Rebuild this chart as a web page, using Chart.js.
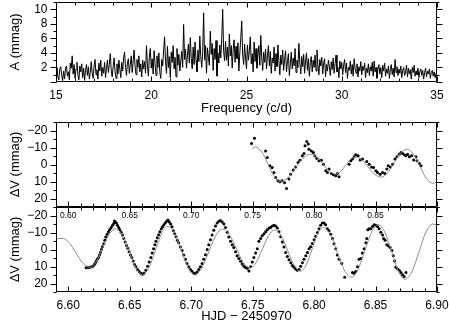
<!DOCTYPE html>
<html>
<head>
<meta charset="utf-8">
<script src="https://cdn.jsdelivr.net/npm/chart.js@4.4.1/dist/chart.umd.min.js"></script>
<style>
  html, body { margin: 0; padding: 0; background: #fff; }
  #wrap { position: relative; width: 449px; height: 325px; }
  #wrap canvas { position: absolute; left: 0; top: 0; }
</style>
</head>
<body>
<div id="wrap">
  <canvas id="spec" width="449" height="325"></canvas>
  <canvas id="night2" width="449" height="325"></canvas>
  <canvas id="night1" width="449" height="325"></canvas>
</div>
<script>
// amplitude spectrum, one row per c/d, sampled every 0.05 c/d from 15 c/d
const freqStart = 15;
const freqStep = 0.05;
const amplitude = [
  1.2, 2.0, 0.6, 0.3, 1.8, 2.1, 0.9, 0.2, 1.5, 0.4, 1.9, 2.2, 0.8, 1.4, 0.3, 2.6, 1.9, 3.6, 1.1, 2.4,
  0.5, 1.8, 2.7, 1.0, 0.3, 2.2, 1.4, 2.5, 0.6, 1.9, 0.2, 1.6, 2.4, 0.9, 2.1, 0.4, 1.3, 2.8, 1.2, 0.5,
  2.2, 3.1, 1.0, 1.7, 0.4, 2.6, 1.5, 3.0, 0.8, 2.0, 1.2, 2.7, 0.6, 1.9, 3.0, 1.3, 2.4, 3.9, 1.6, 0.7,
  2.1, 3.3, 1.4, 0.5, 2.5, 1.1, 3.0, 1.8, 0.6, 2.7, 1.5, 3.4, 4.1, 2.0, 0.9, 2.6, 3.2, 1.2, 2.4, 3.6,
  1.3, 2.9, 4.4, 2.2, 1.0, 3.1, 2.0, 3.6, 1.4, 2.5, 0.7, 3.0, 1.8, 2.8, 1.2, 5.0, 2.3, 0.8, 3.4, 4.6,
  1.9, 3.2, 1.1, 4.3, 2.5, 0.9, 3.6, 2.0, 4.0, 1.3, 0.5, 3.1, 2.2, 4.4, 6.2, 2.8, 1.2, 4.9, 2.0, 3.5,
  0.6, 4.1, 2.7, 5.0, 1.8, 3.4, 0.7, 4.6, 2.3, 3.8, 1.5, 2.9, 4.2, 2.0, 7.9, 3.1, 4.5, 1.9, 3.6, 5.2,
  2.6, 6.1, 3.2, 1.8, 4.8, 2.4, 5.5, 3.0, 1.4, 4.4, 2.8, 6.3, 3.5, 2.0, 4.1, 9.5, 3.0, 5.0, 1.2, 4.7,
  3.4, 2.3, 7.0, 3.8, 5.3, 1.6, 4.6, 3.1, 5.7, 0.8, 4.0, 2.6, 5.1, 3.3, 6.0, 10.0, 4.2, 2.9, 5.6, 3.0,
  4.8, 2.2, 6.6, 3.6, 5.0, 1.9, 4.4, 5.8, 2.7, 4.9, 3.2, 5.4, 1.5, 4.0, 6.1, 8.4, 3.7, 2.4, 5.2, 3.3,
  1.8, 5.1, 3.0, 4.3, 6.2, 2.5, 3.9, 1.4, 5.5, 2.8, 4.6, 1.9, 3.7, 5.0, 2.3, 6.4, 3.4, 1.6, 4.1, 2.7,
  4.5, 1.8, 3.6, 5.0, 2.2, 4.2, 1.2, 3.3, 2.6, 4.8, 1.5, 3.9, 2.1, 5.1, 2.9, 1.0, 3.7, 2.4, 4.4, 1.6,
  3.1, 4.3, 1.4, 2.8, 3.9, 0.9, 2.5, 4.1, 1.8, 3.3, 2.2, 4.6, 1.3, 3.0, 2.0, 5.3, 2.6, 1.1, 3.5, 2.1,
  3.8, 1.2, 2.9, 4.0, 1.6, 3.2, 0.8, 2.7, 3.5, 1.4, 3.0, 2.0, 3.7, 1.5, 4.4, 2.3, 1.0, 3.1, 2.2, 3.4,
  1.1, 2.6, 3.2, 0.7, 2.4, 1.5, 3.0, 2.1, 0.9, 2.8, 1.7, 3.3, 1.2, 2.5, 3.7, 1.4, 2.0, 0.6, 2.9, 1.8,
  2.7, 1.0, 2.3, 3.1, 1.3, 2.6, 0.5, 2.0, 1.6, 2.9, 1.1, 2.4, 0.8, 3.2, 1.9, 1.2, 2.5, 0.7, 2.1, 1.5,
  2.8, 1.0, 2.2, 1.6, 2.6, 0.6, 1.9, 1.3, 2.5, 0.9, 2.1, 1.5, 2.7, 0.8, 2.9, 1.4, 2.0, 0.5, 1.8, 2.4,
  1.1, 2.0, 0.6, 2.3, 1.5, 2.6, 0.8, 1.8, 1.2, 2.2, 0.5, 1.7, 2.4, 1.0, 1.9, 0.7, 3.1, 1.3, 2.1, 0.9,
  1.8, 1.2, 2.2, 0.6, 1.6, 2.0, 0.9, 1.4, 2.3, 0.7, 1.9, 1.1, 1.7, 0.4, 2.0, 1.3, 2.3, 0.8, 1.5, 1.0,
  1.9, 0.6, 1.4, 1.8, 0.9, 1.6, 0.4, 1.3, 1.9, 0.7, 1.5, 1.1, 1.8, 0.5, 1.3, 1.6, 0.8, 1.4, 0.6, 1.2,
  0.7
];
const freqTicks = [15, 20, 25, 30, 35];
const ampTicks = [2, 4, 6, 8, 10];

// first night (middle panel), time axis shown as 0.xx
const night1Time = [
  0.7491, 0.7515, 0.7605, 0.7619, 0.7640, 0.7659, 0.7673, 0.7687, 0.7706, 0.7722,
  0.7741, 0.7760, 0.7776, 0.7795, 0.7809, 0.7831, 0.7850, 0.7869, 0.7885, 0.7904,
  0.7918, 0.7926, 0.7940, 0.7953, 0.7959, 0.7978, 0.7994, 0.8005, 0.8021, 0.8040,
  0.8059, 0.8076, 0.8095, 0.8108, 0.8122, 0.8141, 0.8157, 0.8176, 0.8190, 0.8203,
  0.8285, 0.8299, 0.8312, 0.8326, 0.8339, 0.8358, 0.8375, 0.8394, 0.8429, 0.8448,
  0.8467, 0.8484, 0.8503, 0.8516, 0.8538, 0.8557, 0.8576, 0.8592, 0.8603, 0.8620,
  0.8639, 0.8658, 0.8674, 0.8693, 0.8707, 0.8720, 0.8734, 0.8747, 0.8761, 0.8775,
  0.8794, 0.8810, 0.8829, 0.8837, 0.8856, 0.8870
];
const night1Dv = [
  -12.4, -15.5, -8.0, -4.1, 0.8, 1.8, 4.7, 7.6, 9.6, 10.2,
  9.6, 10.8, 14.1, 8.6, 5.7, 3.3, 1.4, -1.2, -2.5, -5.1,
  -6.5, -11.0, -13.5, -12.0, -9.0, -8.0, -7.1, -5.1, -3.7, -2.2,
  -2.5, -0.2, 3.7, 4.7, 2.7, 5.3, 6.1, 6.6, 5.3, 7.2,
  -0.2, -2.2, -3.2, -4.5, -5.7, -5.1, -2.6, -3.2, -1.8, -0.2,
  1.4, 1.8, 3.7, 4.7, 5.7, 4.7, 5.3, 2.7, 0.8, 1.4,
  -0.2, -3.2, -4.5, -6.1, -7.1, -6.5, -5.7, -5.1, -6.1, -4.5,
  -5.1, -2.6, -4.5, -2.2, -0.6, 0.8
];
const night1FitTime = [
  0.7495, 0.7525, 0.7575, 0.7625, 0.7675, 0.7725, 0.7787, 0.7849, 0.7910, 0.7972,
  0.8023, 0.8074, 0.8124, 0.8175, 0.8215, 0.8255, 0.8295, 0.8335, 0.8388, 0.8440,
  0.8493, 0.8545, 0.8598, 0.8651, 0.8703, 0.8756, 0.8808, 0.8861, 0.8913, 0.8965, 0.9000
];
const night1FitDv = [
  -9.3, -10.3, -7.3, -0.2, 7.0, 10.0, 7.7, 2.0, -3.7, -6.0,
  -4.3, -0.2, 3.9, 5.6, 4.1, 0.6, -3.0, -4.5, -2.8, 1.5,
  5.7, 7.4, 5.0, -0.8, -6.6, -9.0, -6.1, 1.0, 8.1, 11.0, 10.3
];
const phaseTicks = [0.60, 0.65, 0.70, 0.75, 0.80, 0.85];

// second night (bottom panel), HJD - 2450970
const night2Time = [
  6.6145, 6.6158, 6.6172, 6.6186, 6.6199, 6.6210, 6.6218, 6.6226, 6.6235, 6.6246,
  6.6254, 6.6262, 6.6270, 6.6278, 6.6289, 6.6297, 6.6305, 6.6316, 6.6327, 6.6338,
  6.6349, 6.6360, 6.6371, 6.6376, 6.6381, 6.6392, 6.6400, 6.6411, 6.6419, 6.6430,
  6.6441, 6.6452, 6.6463, 6.6474, 6.6484, 6.6495, 6.6506, 6.6517, 6.6528, 6.6539,
  6.6550, 6.6563, 6.6577, 6.6590, 6.6604, 6.6615, 6.6631, 6.6645, 6.6658, 6.6672,
  6.6683, 6.6694, 6.6705, 6.6713, 6.6724, 6.6735, 6.6745, 6.6756, 6.6767, 6.6778,
  6.6789, 6.6800, 6.6811, 6.6822, 6.6833, 6.6844, 6.6855, 6.6866, 6.6877, 6.6888,
  6.6898, 6.6912, 6.6926, 6.6939, 6.6953, 6.6966, 6.6980, 6.6994, 6.7007, 6.7021,
  6.7034, 6.7048, 6.7062, 6.7075, 6.7089, 6.7102, 6.7116, 6.7130, 6.7143, 6.7157,
  6.7170, 6.7184, 6.7198, 6.7211, 6.7225, 6.7238, 6.7252, 6.7266, 6.7279, 6.7293,
  6.7306, 6.7320, 6.7334, 6.7347, 6.7361, 6.7374, 6.7388, 6.7402, 6.7415, 6.7429,
  6.7442, 6.7456, 6.7470, 6.7483, 6.7497, 6.7510, 6.7524, 6.7538, 6.7551, 6.7565,
  6.7578, 6.7592, 6.7606, 6.7619, 6.7633, 6.7646, 6.7660, 6.7674, 6.7687, 6.7701,
  6.7714, 6.7728, 6.7742, 6.7755, 6.7769, 6.7782, 6.7796, 6.7810, 6.7823, 6.7837,
  6.7850, 6.7864, 6.7878, 6.7891, 6.7905, 6.7918, 6.7932, 6.7946, 6.7959, 6.7972,
  6.7986, 6.8000, 6.8013, 6.8027, 6.8040, 6.8053, 6.8067, 6.8081, 6.8094, 6.8108,
  6.8121, 6.8135, 6.8149, 6.8162, 6.8176, 6.8189, 6.8203, 6.8225, 6.8249, 6.8312,
  6.8325, 6.8339, 6.8353, 6.8366, 6.8380, 6.8393, 6.8407, 6.8421, 6.8429, 6.8437,
  6.8448, 6.8461, 6.8475, 6.8489, 6.8502, 6.8516, 6.8529, 6.8543, 6.8557, 6.8565,
  6.8578, 6.8592, 6.8606, 6.8619, 6.8633, 6.8644, 6.8655, 6.8665, 6.8679, 6.8693,
  6.8706, 6.8720, 6.8733, 6.8747
];
const night2Dv = [
  10.8, 10.4, 10.6, 10.2, 9.8, 9.0, 8.2, 7.0, 5.8, 4.7,
  3.3, 1.7, 0.0, -1.6, -3.4, -5.5, -7.3, -8.9, -10.5, -11.8,
  -13.0, -14.2, -15.4, -16.8, -16.2, -15.6, -14.2, -13.0, -11.6, -10.1,
  -8.5, -6.5, -4.4, -2.4, -0.8, 1.3, 3.3, 4.7, 6.7, 8.8,
  10.2, 11.8, 13.0, 13.9, 14.5, 13.9, 12.2, 9.8, 7.4, 4.7,
  2.1, -0.4, -2.8, -4.9, -6.9, -8.7, -10.5, -12.2, -13.4, -14.6,
  -15.6, -16.6, -17.4, -16.2, -15.0, -13.4, -11.0, -9.3, -7.5, -5.5,
  -4.0, -1.4, 0.6, 3.3, 5.7, 8.2, 10.2, 11.8, 12.8, 13.9,
  14.3, 13.3, 11.8, 10.2, 8.2, 5.7, 3.1, 0.0, -2.8, -5.7,
  -8.5, -11.3, -13.8, -15.6, -16.6, -17.0, -16.2, -15.0, -13.0, -10.1,
  -7.3, -4.8, -2.8, -1.2, 1.3, 3.7, 5.3, 6.9, 8.6, 9.8,
  10.6, 11.0, 12.6, 10.2, 7.4, 4.7, 2.1, -0.4, -4.8, -6.5,
  -8.1, -9.3, -10.5, -11.6, -12.6, -13.0, -13.8, -14.2, -13.8, -12.6,
  -10.5, -7.5, -4.4, -1.4, 1.7, 4.1, 6.1, 7.8, 9.4, 10.4,
  11.4, 12.2, 11.8, 9.8, 7.8, 5.7, 3.7, 1.7, -0.4, -1.6,
  -3.6, -5.8, -7.8, -10.0, -12.2, -14.2, -15.6, -15.6, -14.6, -12.2,
  -11.0, -8.9, -6.5, -3.4, -0.4, 3.3, 5.7, 8.2, 16.3, 13.5,
  14.0, 13.0, 10.2, 5.7, 5.3, 2.1, -0.4, -4.0, -6.5, -11.6,
  -12.2, -12.2, -13.6, -14.6, -14.2, -13.6, -12.2, -10.1, -8.5, -6.5,
  -5.5, -2.8, -2.0, -1.2, 0.6, 3.7, 6.7, 10.4, 11.4, 12.2,
  13.5, 14.9, 15.9, 13.5
];
const night2FitTime = [
  6.5900, 6.5950, 6.6006, 6.6062, 6.6118, 6.6174, 6.6227, 6.6280, 6.6332, 6.6385,
  6.6440, 6.6495, 6.6550, 6.6605, 6.6656, 6.6708, 6.6759, 6.6810, 6.6865, 6.6920,
  6.6975, 6.7030, 6.7086, 6.7143, 6.7199, 6.7255, 6.7311, 6.7367, 6.7423, 6.7479,
  6.7529, 6.7580, 6.7630, 6.7680, 6.7733, 6.7785, 6.7838, 6.7890, 6.7936, 6.7983,
  6.8029, 6.8075, 6.8132, 6.8189, 6.8245, 6.8302, 6.8357, 6.8412, 6.8467, 6.8522,
  6.8577, 6.8632, 6.8686, 6.8741, 6.8797, 6.8854, 6.8910, 6.8966, 6.9000
];
const night2FitDv = [
  -6.2, -6.6, -4.1, 2.0, 8.0, 10.5, 7.2, -0.9, -8.9, -12.2,
  -8.3, 1.3, 10.9, 14.8, 10.7, 0.6, -9.5, -13.6, -9.5, 0.6,
  10.7, 14.8, 10.9, 1.4, -8.1, -12.0, -8.7, -0.6, 7.5, 10.8,
  7.5, -0.4, -8.2, -11.5, -8.0, 0.7, 9.3, 12.8, 9.0, -0.1,
  -9.2, -13.0, -8.7, 1.7, 12.0, 16.3, 11.8, 0.9, -10.1, -14.6,
  -9.9, 1.5, 12.8, 17.5, 12.8, 1.3, -10.3, -15.0, -14.3
];
const hjdTicks = [6.60, 6.65, 6.70, 6.75, 6.80, 6.85, 6.90];
const dvTicks = [-20, -10, 0, 10, 20];

Chart.defaults.font.family = '"Liberation Sans", Arial, Helvetica, sans-serif';
Chart.defaults.color = '#000';
Chart.defaults.animation = false;

// box with IDL-like ticks: x ticks point in, y ticks point out
function minorValues(scale, step) {
  const out = [];
  const n0 = Math.ceil(scale.min / step - 1e-6);
  const n1 = Math.floor(scale.max / step + 1e-6);
  for (let n = n0; n <= n1; n++) out.push(n * step);
  return out;
}
const frameTicks = {
  id: 'frameTicks',
  afterDraw(chart, args, opts) {
    const { ctx, chartArea: a } = chart;
    const xs = chart.scales.x, ys = chart.scales.y;
    const L = Math.round(a.left) + 0.5, R = Math.round(a.right) - 0.5;
    const T = Math.round(a.top) + 0.5, B = Math.round(a.bottom) - 0.5;
    ctx.save();
    ctx.strokeStyle = '#000';
    ctx.lineWidth = 1;
    ctx.beginPath();
    ctx.rect(L, T, R - L, B - T);
    const xMarks = (vals, len) => vals.forEach(v => {
      const px = Math.round(xs.getPixelForValue(v)) + 0.5;
      ctx.moveTo(px, T); ctx.lineTo(px, T + len);
      ctx.moveTo(px, B); ctx.lineTo(px, B - len);
    });
    const yMarks = (vals, len) => vals.forEach(v => {
      const py = Math.round(ys.getPixelForValue(v)) + 0.5;
      ctx.moveTo(L, py); ctx.lineTo(L - len, py);
      ctx.moveTo(R, py); ctx.lineTo(R + len, py);
    });
    xMarks(minorValues(xs, opts.xMinor), 3);
    xMarks(minorValues(xs, opts.xMajor), 5);
    yMarks(minorValues(ys, opts.yMinor), 3);
    yMarks(minorValues(ys, opts.yMajor), 6);
    ctx.stroke();
    ctx.restore();
  }
};

const minus = v => String(v).replace('-', '\u2212');

function yAxis(min, max, reverse, tickList, title, fmt) {
  return {
    type: 'linear', min, max, reverse,
    grid: { display: false, drawTicks: false }, border: { display: false },
    afterBuildTicks: s => { s.ticks = tickList.map(v => ({ value: v })); },
    afterFit: s => { s.width = 56; s.paddingTop = 0; s.paddingBottom = 0; },
    ticks: { font: { size: 12 }, padding: 8.5, callback: fmt },
    title: { display: true, text: title, font: { size: 13 }, padding: { top: 8, bottom: 0 } }
  };
}
function xAxis(min, max, tickList, height, fontSize, pad, title, titlePad, fmt) {
  return {
    type: 'linear', min, max,
    grid: { display: false, drawTicks: false }, border: { display: false },
    afterBuildTicks: s => { s.ticks = tickList.map(v => ({ value: v })); },
    afterFit: s => { s.height = height; s.paddingLeft = 0; s.paddingRight = 0; },
    ticks: { font: { size: fontSize }, padding: pad, maxRotation: 0, autoSkip: false, callback: fmt },
    title: title ? { display: true, text: title, font: { size: 13 }, padding: { top: 0, bottom: titlePad } }
                 : { display: false }
  };
}

// spectrum
new Chart(document.getElementById('spec'), {
  type: 'line',
  data: {
    datasets: [{
      data: amplitude.map((a, i) => ({ x: freqStart + i * freqStep, y: a })),
      borderColor: '#000', borderWidth: 1, pointRadius: 0, tension: 0
    }]
  },
  options: {
    responsive: false,
    layout: { padding: { top: 2, right: 12, bottom: 325 - 82 - 34, left: 0 } },
    plugins: { legend: { display: false }, tooltip: { enabled: false },
      frameTicks: { xMinor: 1, xMajor: 5, yMinor: 1, yMajor: 2 } },
    scales: {
      x: xAxis(15, 35, freqTicks, 34, 12, 6, 'Frequency (c/d)', 0, v => String(v)),
      y: yAxis(0, 11, false, ampTicks, 'A (mmag)', v => String(v))
    }
  },
  plugins: [frameTicks]
});

function lightCurve(id, times, dv, fitTimes, fitDv, xMin, xMax, xTickList, top, xHeight, xFont, xPad, xTitle) {
  new Chart(document.getElementById(id), {
    type: 'scatter',
    data: {
      datasets: [{
        data: fitTimes.map((t, i) => ({ x: t, y: fitDv[i] })),
        showLine: true, borderColor: '#8a8a8a', borderWidth: 1, pointRadius: 0,
        cubicInterpolationMode: 'monotone'
      }, {
        data: times.map((t, i) => ({ x: t, y: dv[i] })),
        pointRadius: 1.5, pointBackgroundColor: '#000', pointBorderWidth: 0
      }]
    },
    options: {
      responsive: false,
      layout: { padding: { top: top, right: 12, bottom: 325 - (top + 85) - xHeight, left: 0 } },
      plugins: { legend: { display: false }, tooltip: { enabled: false },
        frameTicks: { xMinor: 0.01, xMajor: 0.05, yMinor: 5, yMajor: 10 } },
      scales: {
        x: xAxis(xMin, xMax, xTickList, xHeight, xFont, xPad, xTitle, 1, v => v.toFixed(2)),
        y: yAxis(-25, 25, true, dvTicks, '\u0394V (mmag)', minus)
      }
    },
    plugins: [frameTicks]
  });
}

lightCurve('night2', night2Time, night2Dv, night2FitTime, night2FitDv,
  6.59, 6.90, hjdTicks, 207, 33, 12, 6, 'HJD \u2212 2450970');
lightCurve('night1', night1Time, night1Dv, night1FitTime, night1FitDv,
  0.59, 0.90, phaseTicks, 122, 14, 8.5, 3.4, null);
</script>
</body>
</html>
